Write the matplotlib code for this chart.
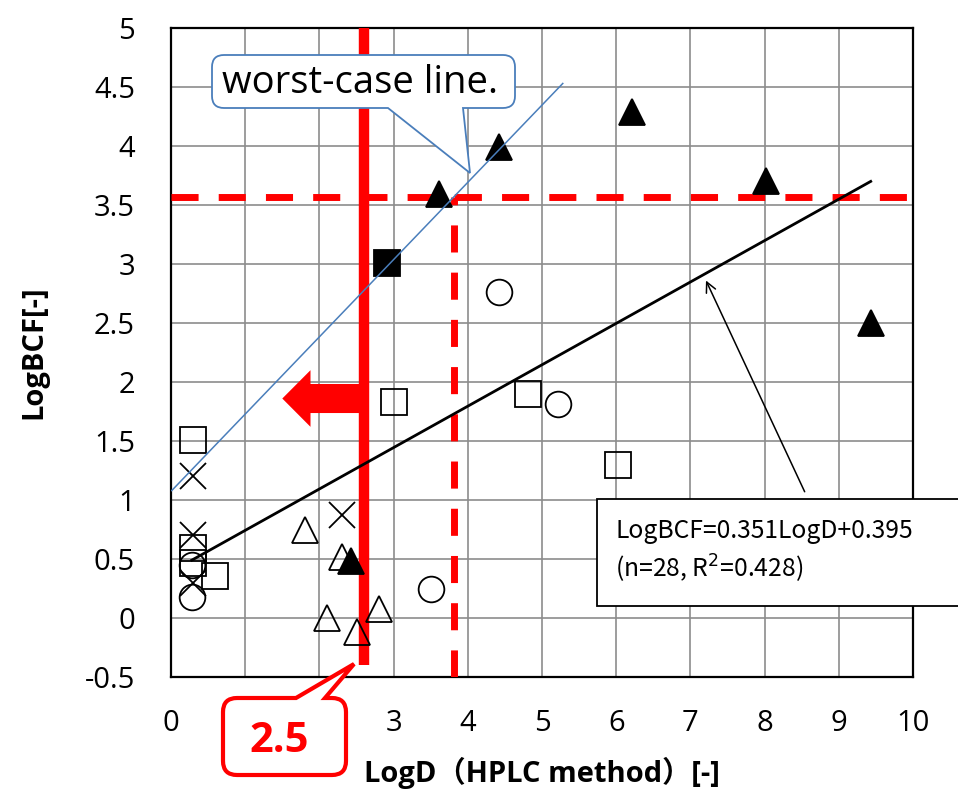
import matplotlib
matplotlib.use("Agg")
import matplotlib.pyplot as plt
from matplotlib.path import Path
from matplotlib.patches import PathPatch, Rectangle
from matplotlib.transforms import Affine2D

W, H = 958, 793

# ---- data ----
filled_tri_x = [3.61, 4.42, 6.21, 8.02, 9.43, 2.42]
filled_tri_y = [3.59, 3.99, 4.29, 3.70, 2.50, 0.48]
filled_sq_x = [2.91]
filled_sq_y = [3.01]
circle_x = [4.42, 5.22, 3.50, 0.28, 0.28]
circle_y = [2.76, 1.81, 0.25, 0.45, 0.18]
square_x = [0.29, 3.01, 4.81, 6.02, 0.29, 0.29, 0.59]
square_y = [1.51, 1.83, 1.90, 1.30, 0.59, 0.47, 0.36]
cross_x = [0.29, 0.29, 0.29, 2.30]
cross_y = [1.20, 0.70, 0.30, 0.87]
open_tri_x = [1.80, 2.30, 2.10, 2.51, 2.80]
open_tri_y = [0.75, 0.52, 0.00, -0.12, 0.08]

reg_x = [0.28, 9.43]
reg_y = [0.49, 3.70]
worst_x = [0.01, 5.28]
worst_y = [1.08, 4.53]

threshold_bcf = 3.57
threshold_logd = 3.82
limit_logd = 2.6

xticks = [0, 1, 2, 3, 4, 5, 6, 7, 8, 9, 10]
# labels 1 and 2 are hidden behind the "2.5" callout in the reference
xtick_labels = ["0", "", "", "3", "4", "5", "6", "7", "8", "9", "10"]
yticks = [-0.5, 0, 0.5, 1, 1.5, 2, 2.5, 3, 3.5, 4, 4.5, 5]
ytick_labels = ["-0.5", "0", "0.5", "1", "1.5", "2", "2.5", "3", "3.5", "4", "4.5", "5"]

eq_line1 = "LogBCF=0.351LogD+0.395"
eq_line2 = "(n=28, R$^{2}$=0.428)"

# ---- figure ----
fig = plt.figure(figsize=(W / 100, H / 100), dpi=100)
ax = fig.add_axes([171 / W, 1 - 677 / H, (913 - 171) / W, (677 - 28) / H])
ax.set_xlim(0, 10)
ax.set_ylim(-0.5, 5)
ax.set_xticks(xticks)
ax.set_xticklabels(xtick_labels)
ax.set_yticks(yticks)
ax.set_yticklabels(ytick_labels)
ax.grid(True, color="#8c8c8c", lw=1.2, zorder=0)
ax.set_axisbelow(True)
ax.tick_params(length=0, labelsize=21)
ax.tick_params(axis="x", pad=23)
ax.tick_params(axis="y", pad=26)
for lab in ax.get_xticklabels() + ax.get_yticklabels():
    lab.set_family(["Open Sans", "DejaVu Sans"])
for s in ax.spines.values():
    s.set_color("black")
    s.set_linewidth(1.6)

ms = 18.5
mk = dict(linestyle="none", markersize=ms, markeredgewidth=1.3, zorder=5)
ax.plot(filled_tri_x, filled_tri_y, marker="^", color="black", markerfacecolor="black", **mk)
ax.plot(filled_sq_x, filled_sq_y, marker="s", color="black", markerfacecolor="black", **mk)
ax.plot(circle_x, circle_y, marker="o", color="black", markerfacecolor="none", **mk)
ax.plot(square_x, square_y, marker="s", color="black", markerfacecolor="none", **mk)
ax.plot(cross_x, cross_y, marker="x", color="black", **mk)
ax.plot(open_tri_x, open_tri_y, marker="^", color="black", markerfacecolor="none", **mk)

# regression & worst-case lines
ax.plot(reg_x, reg_y, color="black", lw=2.0, zorder=6)
ax.plot(worst_x, worst_y, color="#4a7ebb", lw=1.1, zorder=6)

# red threshold lines
ax.plot([0, 10], [threshold_bcf, threshold_bcf], color="red", lw=5,
        linestyle=(0, (3.9, 2.9)), zorder=4, solid_capstyle="butt")
ax.plot([threshold_logd, threshold_logd], [-0.5, threshold_bcf], color="red", lw=5,
        linestyle=(0, (3.9, 2.9)), zorder=4)
ax.plot([limit_logd, limit_logd], [-0.40, 5], color="red", lw=7.5, zorder=4,
        solid_capstyle="butt")
ax.arrow(limit_logd, 1.86, 1.50 - limit_logd, 0, width=0.246, head_width=0.48,
         head_length=0.38, length_includes_head=True, color="red", lw=0, zorder=4)

# axis labels
ax.set_xlabel("LogD（HPLC method）[-]", fontsize=21, fontweight="bold",
              family=["Open Sans", "Noto Sans CJK JP"], labelpad=14)
ax.set_ylabel("LogBCF[-]", fontsize=21, fontweight="bold",
              family=["Open Sans", "Noto Sans CJK JP"], labelpad=26)

# pixel-coordinate transform (origin top-left)
pix = Affine2D().scale(1 / W, -1 / H).translate(0, 1) + fig.transFigure


def callout(x0, y0, x1, y1, r, edge, a, b, tip):
    v, c = [], []
    v.append((x0 + r, y0)); c.append(Path.MOVETO)
    if edge == "top":
        v += [(a, y0), tip, (b, y0)]; c += [Path.LINETO] * 3
    v.append((x1 - r, y0)); c.append(Path.LINETO)
    v += [(x1, y0), (x1, y0 + r)]; c += [Path.CURVE3] * 2
    v.append((x1, y1 - r)); c.append(Path.LINETO)
    v += [(x1, y1), (x1 - r, y1)]; c += [Path.CURVE3] * 2
    if edge == "bottom":
        v += [(b, y1), tip, (a, y1)]; c += [Path.LINETO] * 3
    v.append((x0 + r, y1)); c.append(Path.LINETO)
    v += [(x0, y1), (x0, y1 - r)]; c += [Path.CURVE3] * 2
    v.append((x0, y0 + r)); c.append(Path.LINETO)
    v += [(x0, y0), (x0 + r, y0)]; c += [Path.CURVE3] * 2
    v.append((x0 + r, y0)); c.append(Path.CLOSEPOLY)
    return Path(v, c)


# worst-case callout
p1 = PathPatch(callout(212, 55, 515, 108, 12, "bottom", 388, 463, (470, 173)),
               transform=pix, facecolor="white", edgecolor="#4a7ebb", lw=1.3,
               clip_on=False, zorder=10)
fig.add_artist(p1)
fig.text(222 / W, 1 - 83 / H, "worst-case line.", fontsize=27.5, va="center", ha="left",
         family=["Open Sans", "DejaVu Sans"], zorder=11)

# 2.5 callout
p2 = PathPatch(callout(223, 698, 346, 775, 14, "top", 296, 325, (354, 664)),
               transform=pix, facecolor="white", edgecolor="red", lw=3,
               clip_on=False, zorder=10)
fig.add_artist(p2)
fig.text(279 / W, 1 - 741 / H, "2.5", fontsize=30, fontweight="bold", color="red",
         ha="center", va="center", family=["Open Sans", "DejaVu Sans"], zorder=11)

# equation box & arrow
ax.annotate("", xy=(7.21, 2.86), xytext=(8.54, 1.07),
            arrowprops=dict(arrowstyle="->", color="black", lw=1.1,
                            mutation_scale=18, shrinkA=0, shrinkB=0), zorder=7)
box = Rectangle((597, 499), 400, 107, transform=pix, facecolor="white",
                edgecolor="black", lw=1.3, clip_on=False, zorder=10)
fig.add_artist(box)
fig.text(615 / W, 1 - 531 / H, eq_line1, fontsize=17.8, va="center", ha="left",
         family=["Noto Sans CJK JP", "DejaVu Sans"], zorder=11)
fig.text(615 / W, 1 - 569 / H, eq_line2, fontsize=17.8, va="center", ha="left",
         family=["Noto Sans CJK JP", "DejaVu Sans"], zorder=11)

fig.savefig("out.png", dpi=100)
